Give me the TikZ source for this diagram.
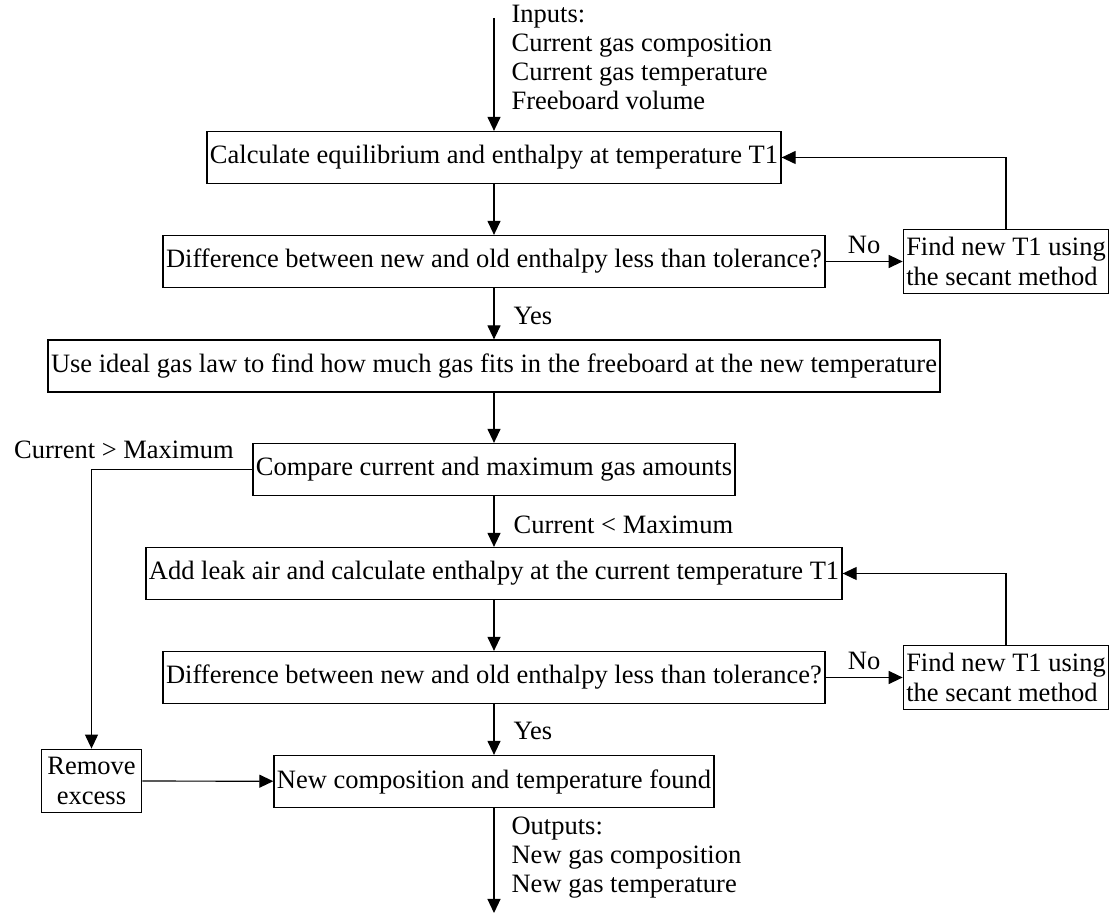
\documentclass[tikz,border=0pt]{standalone}
\usepackage{fontspec}
\setmainfont{Liberation Serif}
\usetikzlibrary{positioning,arrows.meta}

\tikzset{
  blok/.style={draw, rectangle, minimum height=26pt, inner xsep=1.5pt, inner ysep=3pt},
  twoline/.style={blok, align=left, inner ysep=4pt, font=\fontsize{13.25}{15}\selectfont},
  lbl/.style={inner sep=0pt},
}

\begin{document}
\begin{tikzpicture}[->, >={Triangle[length=7pt,width=6.5pt]}, x=0.5pt, y=-0.5pt, line width=0.6pt,
  every node/.style={font=\fontsize{13.25}{14.5}\selectfont}]

  \useasboundingbox (0,0) rectangle (1110,913);

  \node[lbl, anchor=west, align=left] (inputs) at (511,57)
    {Inputs:\\Current gas composition\\Current gas temperature\\Freeboard volume};
  \coordinate (in) at (494,18);

  \node[blok] (calc) at (494,157.5) {Calculate equilibrium and enthalpy at temperature T1};
  \node[blok] (diff1) at (494,261.5) {Difference between new and old enthalpy less than tolerance?};
  \node[twoline] (find1) at (1006,261.5) {Find new T1 using\\the secant method};

  \node[blok] (ideal) at (494,366) {Use ideal gas law to find how much gas fits in the freeboard at the new temperature};
  \node[blok] (compare) at (494,469.5) {Compare current and maximum gas amounts};

  \node[blok] (add) at (494,573.5) {Add leak air and calculate enthalpy at the current temperature T1};
  \node[blok] (diff2) at (494,677.5) {Difference between new and old enthalpy less than tolerance?};
  \node[twoline] (find2) at (1006,677.5) {Find new T1 using\\the secant method};

  \node[twoline, align=center, inner xsep=3pt] (remove) at (91.5,781) {Remove\\excess};
  \node[blok] (new) at (494,781.5) {New composition and temperature found};

  \node[lbl, anchor=west, align=left] (outputs) at (511,858)
    {Outputs:\\New gas composition\\New gas temperature};
  \coordinate (out) at (494,913);

  \node[lbl] (gt) at (124,450) {Current > Maximum};
  \node[lbl, anchor=west] (lt) at (513,525) {Current < Maximum};
  \node[lbl, anchor=west] (yes1) at (513,316) {Yes};
  \node[lbl, anchor=west] (yes2) at (513,731) {Yes};

  \path
    (in) edge (calc)
    (calc) edge (diff1)
    (diff1) edge (ideal)
    (ideal) edge (compare)
    (compare) edge (add)
    (add) edge (diff2)
    (diff2) edge (new)
    (new) edge (out);

  \path
    (diff1) edge node[above]{No} (find1)
    (diff2) edge node[above]{No} (find2);

  \draw (find1) |- (calc);
  \draw (find2) |- (add);

  \draw (compare) -| (remove);
  \path (remove) edge (new);

\end{tikzpicture}
\end{document}
